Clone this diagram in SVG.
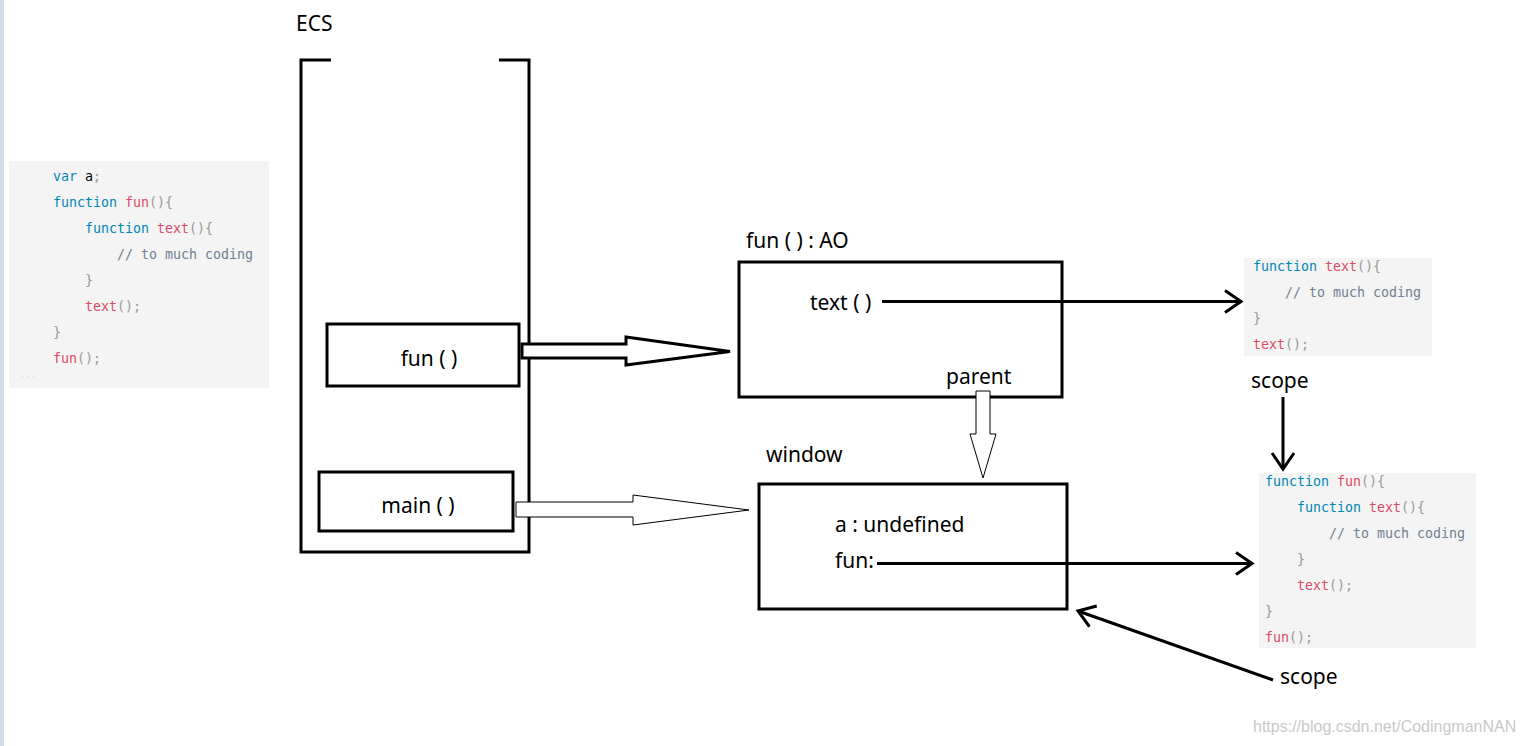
<svg xmlns="http://www.w3.org/2000/svg" width="1523" height="746" viewBox="0 0 1523 746">
<defs>
<style>
.lbl{font-family:"Noto Sans","Open Sans","DejaVu Sans",sans-serif;font-size:21px;fill:#000}
.box{fill:none;stroke:#000;stroke-width:3}
.code{font-family:"DejaVu Sans Mono","Liberation Mono",monospace;font-size:13.3px;fill:#999}
.kw{fill:#0086b3}
.fn{fill:#dd4a68}
.cm{fill:#708090}
.pl{fill:#000}
.bg{fill:#f4f4f4}
.ln{fill:none;stroke:#000;stroke-width:3}
.blk{fill:#fff;stroke:#000}
</style>
<marker id="chev" markerUnits="userSpaceOnUse" markerWidth="30" markerHeight="30" viewBox="-20 -15 24 30" refX="0" refY="0" orient="auto">
<path d="M-16,-11 L0,0 L-16,11" fill="none" stroke="#000" stroke-width="3"/>
</marker>
</defs>
<rect width="1523" height="746" fill="#fff"/>
<rect x="0" y="0" width="4" height="746" fill="#d3dbe8"/>

<g id="code-main">
<rect class="bg" x="9" y="161" width="260" height="227"/>
<text class="code" x="53" y="181"><tspan class="kw">var</tspan> <tspan class="pl">a</tspan>;</text>
<text class="code" x="53" y="207"><tspan class="kw">function</tspan> <tspan class="fn">fun</tspan>(){</text>
<text class="code" x="85" y="233"><tspan class="kw">function</tspan> <tspan class="fn">text</tspan>(){</text>
<text class="code cm" x="117" y="259">// to much coding</text>
<text class="code" x="85" y="285">}</text>
<text class="code" x="85" y="311"><tspan class="fn">text</tspan>();</text>
<text class="code" x="53" y="337">}</text>
<text class="code" x="53" y="363"><tspan class="fn">fun</tspan>();</text>
<text class="code" x="20" y="383" style="font-size:9px;fill:#ccc">```</text>
</g>

<g id="ecs">
<text class="lbl" x="296" y="31">ECS</text>
<path class="ln" d="M331,60 H301 V552 H529 V60 H499"/>
</g>

<g id="frame-fun">
<rect class="box" x="327" y="324" width="192" height="62"/>
<text class="lbl" x="429" y="366" text-anchor="middle">fun ( )</text>
</g>

<g id="frame-main">
<rect class="box" x="319" y="472" width="194" height="59"/>
<text class="lbl" x="418" y="513" text-anchor="middle">main ( )</text>
</g>

<g id="ao">
<text class="lbl" x="746" y="248">fun ( ) : AO</text>
<rect class="box" x="739" y="262" width="323" height="135"/>
<text class="lbl" x="810" y="310">text ( )</text>
<text class="lbl" x="946" y="384">parent</text>
</g>

<g id="window">
<text class="lbl" x="766" y="462">window</text>
<rect class="box" x="759" y="484" width="308" height="125"/>
<text class="lbl" x="835" y="532">a : undefined</text>
<text class="lbl" x="835" y="568">fun:</text>
</g>

<g id="code-text">
<rect class="bg" x="1244" y="258" width="188" height="98"/>
<text class="code" x="1253" y="271"><tspan class="kw">function</tspan> <tspan class="fn">text</tspan>(){</text>
<text class="code cm" x="1285" y="297">// to much coding</text>
<text class="code" x="1253" y="323">}</text>
<text class="code" x="1253" y="349"><tspan class="fn">text</tspan>();</text>
<text class="lbl" x="1251" y="388">scope</text>
</g>

<g id="code-fun">
<rect class="bg" x="1259" y="473" width="217" height="175"/>
<text class="code" x="1265" y="486"><tspan class="kw">function</tspan> <tspan class="fn">fun</tspan>(){</text>
<text class="code" x="1297" y="512"><tspan class="kw">function</tspan> <tspan class="fn">text</tspan>(){</text>
<text class="code cm" x="1329" y="538">// to much coding</text>
<text class="code" x="1297" y="564">}</text>
<text class="code" x="1297" y="590"><tspan class="fn">text</tspan>();</text>
<text class="code" x="1265" y="616">}</text>
<text class="code" x="1265" y="642"><tspan class="fn">fun</tspan>();</text>
</g>

<g id="scope-label">
<text class="lbl" x="1280" y="684">scope</text>
</g>

<g id="connectors">
<polygon class="blk" stroke-width="3" points="522,344 626,344 626,337 730,351.5 626,365 626,358 522,358"/>
<polygon class="blk" stroke-width="1" points="516,502 633,502 633,495 749,510 633,525 633,517 516,517"/>
<polygon class="blk" stroke-width="1" points="976,391 990,391 990,434 996,434 983,478 970,434 976,434"/>
<line class="ln" x1="882" y1="301.5" x2="1241" y2="301.5" marker-end="url(#chev)"/>
<line class="ln" x1="877" y1="563.5" x2="1252" y2="563.5" marker-end="url(#chev)"/>
<line class="ln" x1="1283" y1="397" x2="1283" y2="469" marker-end="url(#chev)"/>
<line class="ln" x1="1273" y1="680" x2="1078" y2="611" marker-end="url(#chev)"/>
</g>

<text x="1253" y="732" style="font-family:'Liberation Sans',Arial,sans-serif;font-size:16px;fill:#c9c9c9">https://blog.csdn.net/CodingmanNAN</text>
</svg>
